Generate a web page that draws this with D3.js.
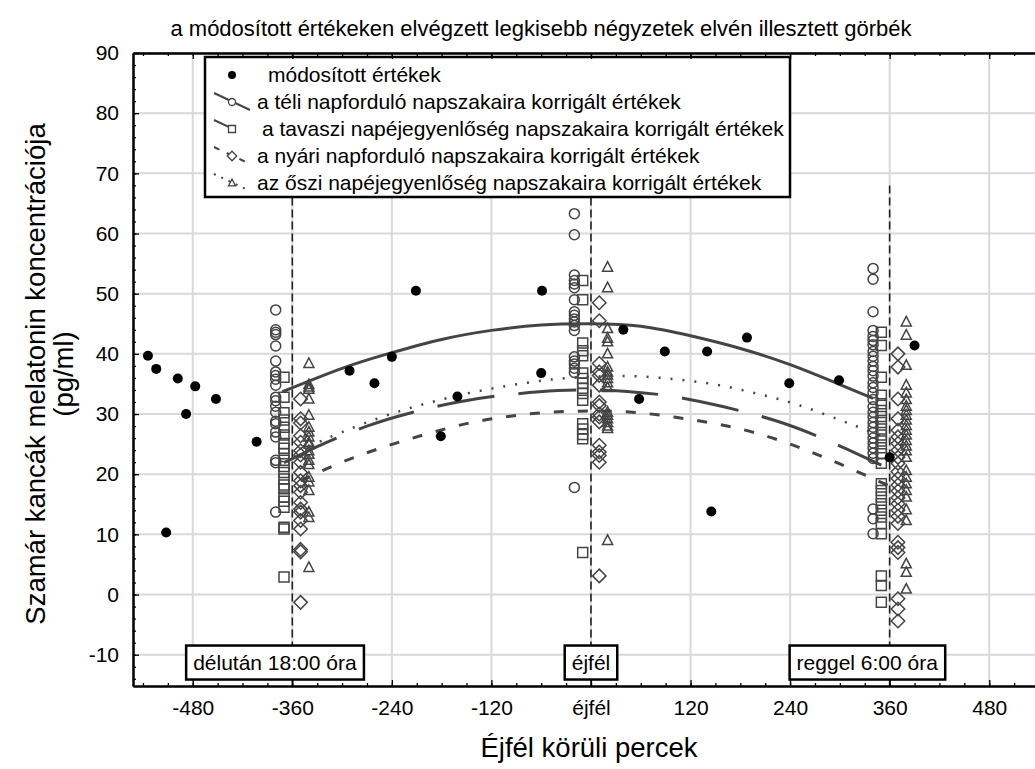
<!DOCTYPE html>
<html>
<head>
<meta charset="utf-8">
<script src="https://cdn.jsdelivr.net/npm/d3@7"></script>
<style>
  body { margin: 0; background: #fff; }
  text { font-family: Arial, "Liberation Sans", sans-serif; fill: #000; }
</style>
</head>
<body>
<div id="chart"></div>
<script>

// x tick values (minutes around midnight) and y tick values
var xTicks = [-480, -360, -240, -120, 0, 120, 240, 360, 480];
var yTicks = [-10, 0, 10, 20, 30, 40, 50, 60, 70, 80, 90];

// módosított értékek (filled dots)
var modX = [-534, -524, -512, -498, -488, -477, -452, -403, -291, -261, -240, -211, -181, -161,
            -60, -59, 39, 58, 89, 140, 145, 188, 239, 299, 360, 390];
var modY = [39.7, 37.5, 10.3, 35.9, 30.0, 34.6, 32.5, 25.4, 37.2, 35.1, 39.5, 50.5, 26.3, 32.9,
            36.8, 50.5, 44.0, 32.5, 40.4, 40.4, 13.8, 42.7, 35.1, 35.6, 22.8, 41.4];

// téli napforduló (circles) - columns at three times
var teliX = [-380, -20, 340];
var teliL = [47.3, 44.0, 43.6, 43.2, 41.3, 38.8, 37.0, 36.4, 35.8, 34.8, 32.8, 32.2, 31.3, 30.3, 28.8, 28.4, 27.0, 26.2, 22.3, 21.9, 13.7];
var teliC = [63.3, 59.8, 53.1, 52.2, 51.6, 51.0, 49.0, 47.0, 46.4, 45.8, 45.3, 44.7, 43.9, 39.5, 38.8, 38.3, 37.6, 36.9, 17.8];
var teliR = [54.2, 52.4, 47.0, 43.9, 42.9, 42.2, 41.5, 40.4, 39.6, 38.8, 37.9, 37.2, 36.3, 35.2, 34.4, 33.5, 32.4, 31.2, 30.3, 29.5, 28.6, 27.8, 26.9, 26.0, 25.2, 24.4, 23.5, 22.6, 14.2, 12.6, 10.1];

// tavaszi napéjegyenlőség (squares)
var tavaszX = [-370, -10, 350];
var tavaszL = [36.1, 32.8, 30.2, 29.0, 27.8, 26.5, 25.1, 24.3, 23.4, 22.3, 21.3, 20.3, 19.2, 18.2, 17.6, 16.2, 15.5, 14.5, 11.2, 10.9, 2.9];
var tavaszC = [52.2, 49.0, 41.8, 40.5, 39.7, 36.8, 35.9, 35.1, 34.3, 33.4, 32.3, 28.4, 27.5, 26.6, 25.9, 7.0];
var tavaszR = [43.6, 41.4, 36.1, 33.1, 31.7, 30.6, 29.6, 28.6, 27.5, 26.5, 25.5, 24.4, 23.4, 21.8, 18.4, 17.3, 16.2, 15.1, 14.0, 12.9, 11.8, 10.1, 3.1, 1.5, -1.3];

// nyári napforduló (diamonds)
var nyariX = [-350, 10, 370];
var nyariL = [32.5, 29.2, 28.5, 26.4, 25.3, 23.9, 23.2, 22.0, 20.3, 18.9, 18.1, 17.0, 15.3, 14.2, 13.7, 12.3, 10.9, 7.5, 7.1, -1.3];
var nyariC = [48.5, 45.5, 38.4, 37.0, 36.4, 34.8, 32.0, 31.4, 30.0, 29.5, 28.7, 24.8, 23.7, 23.1, 22.0, 3.1];
var nyariR = [40.0, 37.8, 32.5, 29.2, 27.3, 26.2, 25.1, 24.0, 22.8, 21.8, 20.4, 19.3, 18.2, 17.2, 16.1, 15.1, 14.0, 13.0, 11.8, 8.7, 7.8, 7.0, -0.7, -2.4, -4.4];

// őszi napéjegyenlőség (triangles)
var osziX = [-340, 20, 380];
var osziL = [38.4, 34.9, 34.5, 34.1, 32.5, 29.8, 27.8, 27.0, 26.2, 25.3, 25.0, 23.9, 23.3, 22.3, 21.6, 19.5, 18.7, 17.3, 13.7, 12.8, 4.5];
var osziC = [54.4, 51.0, 44.2, 42.6, 42.0, 40.0, 37.8, 37.0, 36.5, 35.9, 35.2, 34.4, 30.3, 29.8, 29.2, 28.6, 28.0, 27.6, 9.0];
var osziR = [45.3, 43.1, 38.1, 34.8, 33.5, 32.4, 31.3, 30.6, 29.8, 29.0, 28.1, 27.3, 26.5, 25.6, 24.7, 23.9, 22.8, 20.6, 19.5, 18.4, 17.3, 16.2, 14.1, 12.3, 5.1, 3.7, 0.9];

// fitted curves
var teliFitX = [-372, -300, -240, -180, -120, -60, 0, 60, 120, 180, 240, 300, 340];
var teliFitY = [33.7, 37.6, 40.2, 42.4, 43.9, 44.8, 45.0, 44.6, 43.0, 40.9, 38.2, 34.9, 32.6];
var tavaszFitX = [-370, -320, -270, -220, -160, -100, -40, 0, 40, 100, 160, 220, 280, 350];
var tavaszFitY = [21.9, 25.2, 28.0, 30.1, 32.0, 33.2, 33.9, 34.0, 33.8, 32.9, 31.2, 29.0, 25.9, 21.5];
var nyariFitX = [-350, -300, -250, -200, -150, -100, -50, 0, 50, 100, 150, 200, 250, 300, 370];
var nyariFitY = [18.9, 22.0, 24.5, 26.6, 28.4, 29.6, 30.3, 30.5, 30.3, 29.5, 28.4, 26.8, 24.5, 21.7, 17.4];
var osziFitX = [-340, -300, -250, -200, -150, -100, -50, 0, 50, 100, 150, 200, 250, 300, 340, 380];
var osziFitY = [24.6, 27.0, 29.6, 31.7, 33.4, 34.7, 35.7, 36.2, 36.3, 35.8, 34.9, 33.4, 31.5, 29.0, 26.9, 24.5];

// reference lines and their labels
var refX = [-360, 0, 360];
var refLabelX = [-381, 0, 333];
var refLabels = ["délután 18:00 óra", "éjfél", "reggel 6:00 óra"];

var legendLabels = ["módosított értékek",
  "a téli napforduló napszakaira korrigált értékek",
  "a tavaszi napéjegyenlőség napszakaira korrigált értékek",
  "a nyári napforduló napszakaira korrigált értékek",
  "az őszi napéjegyenlőség napszakaira korrigált értékek"];

var W = 1035, H = 769;
var grey = "#444";

var svg = d3.select("#chart").append("svg")
    .attr("width", W)
    .attr("height", H);

var x = d3.scaleLinear().domain([-552, 540]).range([133, 1039]);
var y = d3.scaleLinear().domain([-15.2, 90]).range([686, 53]);

// grid
svg.append("g").selectAll("line").data(xTicks).enter().append("line")
    .attr("x1", function(d) { return x(d); })
    .attr("x2", function(d) { return x(d); })
    .attr("y1", y(90)).attr("y2", y(-15.2))
    .attr("stroke", "#d9d9d9").attr("stroke-width", 2);
svg.append("g").selectAll("line").data(yTicks).enter().append("line")
    .attr("x1", x(-552)).attr("x2", x(540))
    .attr("y1", function(d) { return y(d); })
    .attr("y2", function(d) { return y(d); })
    .attr("stroke", "#d9d9d9").attr("stroke-width", 2);

// vertical reference lines
svg.append("g").selectAll("line").data(refX).enter().append("line")
    .attr("x1", function(d) { return x(d); })
    .attr("x2", function(d) { return x(d); })
    .attr("y1", y(68)).attr("y2", y(-15.2))
    .attr("stroke", "#222").attr("stroke-width", 1.6)
    .attr("stroke-dasharray", "8,4");

// fitted curves
var fits = [
  {xs: teliFitX, ys: teliFitY, dash: null, w: 3},
  {xs: tavaszFitX, ys: tavaszFitY, dash: "58,24", w: 3},
  {xs: nyariFitX, ys: nyariFitY, dash: "10,14", w: 3},
  {xs: osziFitX, ys: osziFitY, dash: "2,10", w: 2.5}
];
var line = d3.line()
    .x(function(d) { return x(d[0]); })
    .y(function(d) { return y(d[1]); })
    .curve(d3.curveNatural);
fits.forEach(function(f) {
  svg.append("path")
      .datum(d3.zip(f.xs, f.ys))
      .attr("d", line)
      .attr("fill", "none")
      .attr("stroke", grey)
      .attr("stroke-width", f.w)
      .attr("stroke-dasharray", f.dash);
});

// marker shapes
function shape(type, s) {
  if (type === "circle") return d3.symbol().type(d3.symbolCircle).size(Math.PI * s * s)();
  if (type === "square") return "M" + (-s) + "," + (-s) + "h" + 2 * s + "v" + 2 * s + "h" + (-2 * s) + "Z";
  if (type === "diamond") { var r = s * 1.35; return "M0," + (-r) + "L" + r + ",0L0," + r + "L" + (-r) + ",0Z"; }
  if (type === "triangle") return "M0," + (-s * 1.1) + "L" + s + "," + (s * 0.8) + "L" + (-s) + "," + (s * 0.8) + "Z";
}

var groups = [
  {xs: teliX, cols: [teliL, teliC, teliR], type: "circle"},
  {xs: tavaszX, cols: [tavaszL, tavaszC, tavaszR], type: "square"},
  {xs: nyariX, cols: [nyariL, nyariC, nyariR], type: "diamond"},
  {xs: osziX, cols: [osziL, osziC, osziR], type: "triangle"}
];
groups.forEach(function(g) {
  var pts = [];
  g.cols.forEach(function(col, i) {
    col.forEach(function(v) { pts.push([g.xs[i], v]); });
  });
  svg.append("g").selectAll("path").data(pts).enter().append("path")
      .attr("d", shape(g.type, 5))
      .attr("transform", function(d) { return "translate(" + x(d[0]) + "," + y(d[1]) + ")"; })
      .attr("fill", "none")
      .attr("stroke", grey)
      .attr("stroke-width", 1.5);
});

// módosított értékek
svg.append("g").selectAll("circle").data(d3.zip(modX, modY)).enter().append("circle")
    .attr("cx", function(d) { return x(d[0]); })
    .attr("cy", function(d) { return y(d[1]); })
    .attr("r", 5)
    .attr("fill", "#000");

// reference labels
refLabels.forEach(function(t, i) {
  var g = svg.append("g");
  var txt = g.append("text")
      .attr("x", x(refLabelX[i]))
      .attr("y", y(-11.3))
      .attr("dy", "0.35em")
      .attr("text-anchor", "middle")
      .style("font-size", "21px")
      .text(t);
  var bb = txt.node().getBBox();
  g.insert("rect", "text")
      .attr("x", bb.x - 7).attr("width", bb.width + 14)
      .attr("y", y(-11.3) - 17).attr("height", 34)
      .attr("fill", "#fff").attr("stroke", "#000").attr("stroke-width", 2.5);
});

// legend
var lg = svg.append("g");
lg.append("rect")
    .attr("x", 205).attr("y", 57).attr("width", 585).attr("height", 140)
    .attr("fill", "#fff").attr("stroke", "#000").attr("stroke-width", 2.5);
var legendTextX = [268, 257, 262, 257, 257];
legendLabels.forEach(function(t, i) {
  var ly = 75 + i * 27;
  if (i === 0) {
    lg.append("circle").attr("cx", 232).attr("cy", ly).attr("r", 4).attr("fill", "#000");
  } else {
    lg.append("line")
        .attr("x1", 214).attr("y1", ly - 9).attr("x2", 250).attr("y2", ly + 8)
        .attr("stroke", grey).attr("stroke-width", 2)
        .attr("stroke-dasharray", i === 1 ? null : (i === 2 ? "18,40" : (i === 3 ? "6,8" : "2,6")));
    lg.append("path")
        .attr("d", shape(groups[i - 1].type, 3.5))
        .attr("transform", "translate(232," + ly + ")")
        .attr("fill", "#fff").attr("stroke", grey).attr("stroke-width", 1.3);
  }
  lg.append("text")
      .attr("x", legendTextX[i]).attr("y", ly)
      .attr("dy", "0.35em")
      .style("font-size", "21px")
      .text(t);
});

// axes
var fmt = function(d) { return d === 0 ? "éjfél" : String(d); };
var yMinor = d3.range(-14, 90, 2);
var xMinor = d3.range(-540, 541, 30);

svg.append("g")
    .attr("transform", "translate(133,0)")
    .call(d3.axisLeft(y).tickValues(yMinor).tickSize(-3).tickSizeOuter(0).tickFormat(""));
svg.append("g")
    .attr("transform", "translate(133,0)")
    .call(d3.axisLeft(y).tickValues(yTicks).tickSize(-6).tickSizeOuter(0).tickPadding(14)
      .tickFormat(function(d) { return String(d); }))
    .call(function(g) { g.selectAll("text").style("font-size", "21px"); });

svg.append("g")
    .attr("transform", "translate(0,686)")
    .call(d3.axisBottom(x).tickValues(xMinor).tickSize(-3).tickSizeOuter(0).tickFormat(""));
svg.append("g")
    .attr("transform", "translate(0,686)")
    .call(d3.axisBottom(x).tickValues(xTicks).tickSize(-6).tickSizeOuter(0).tickPadding(14)
      .tickFormat(fmt))
    .call(function(g) { g.selectAll("text").style("font-size", "21px"); });

svg.append("g")
    .attr("transform", "translate(0,53)")
    .call(d3.axisTop(x).tickValues(xMinor).tickSize(-3).tickSizeOuter(0).tickFormat(""));
svg.append("g")
    .attr("transform", "translate(0,53)")
    .call(d3.axisTop(x).tickValues(xTicks).tickSize(-6).tickSizeOuter(0).tickFormat(""));

svg.selectAll(".domain").attr("stroke", "#000").attr("stroke-width", 2);
svg.selectAll(".tick line").attr("stroke", "#000").attr("stroke-width", 1.3);

// titles
svg.append("text")
    .attr("x", 541).attr("y", 36)
    .attr("text-anchor", "middle")
    .style("font-size", "22px")
    .text("a módosított értékeken elvégzett legkisebb négyzetek elvén illesztett görbék");

svg.append("text")
    .attr("x", 589).attr("y", 757)
    .attr("text-anchor", "middle")
    .style("font-size", "27.5px")
    .text("Éjfél körüli percek");

svg.append("text")
    .attr("transform", "translate(45,374) rotate(-90)")
    .attr("text-anchor", "middle")
    .style("font-size", "27.5px")
    .text("Szamár kancák melatonin koncentrációja");
svg.append("text")
    .attr("transform", "translate(73,374) rotate(-90)")
    .attr("text-anchor", "middle")
    .style("font-size", "27.5px")
    .text("(pg/ml)");

</script>
</body>
</html>
